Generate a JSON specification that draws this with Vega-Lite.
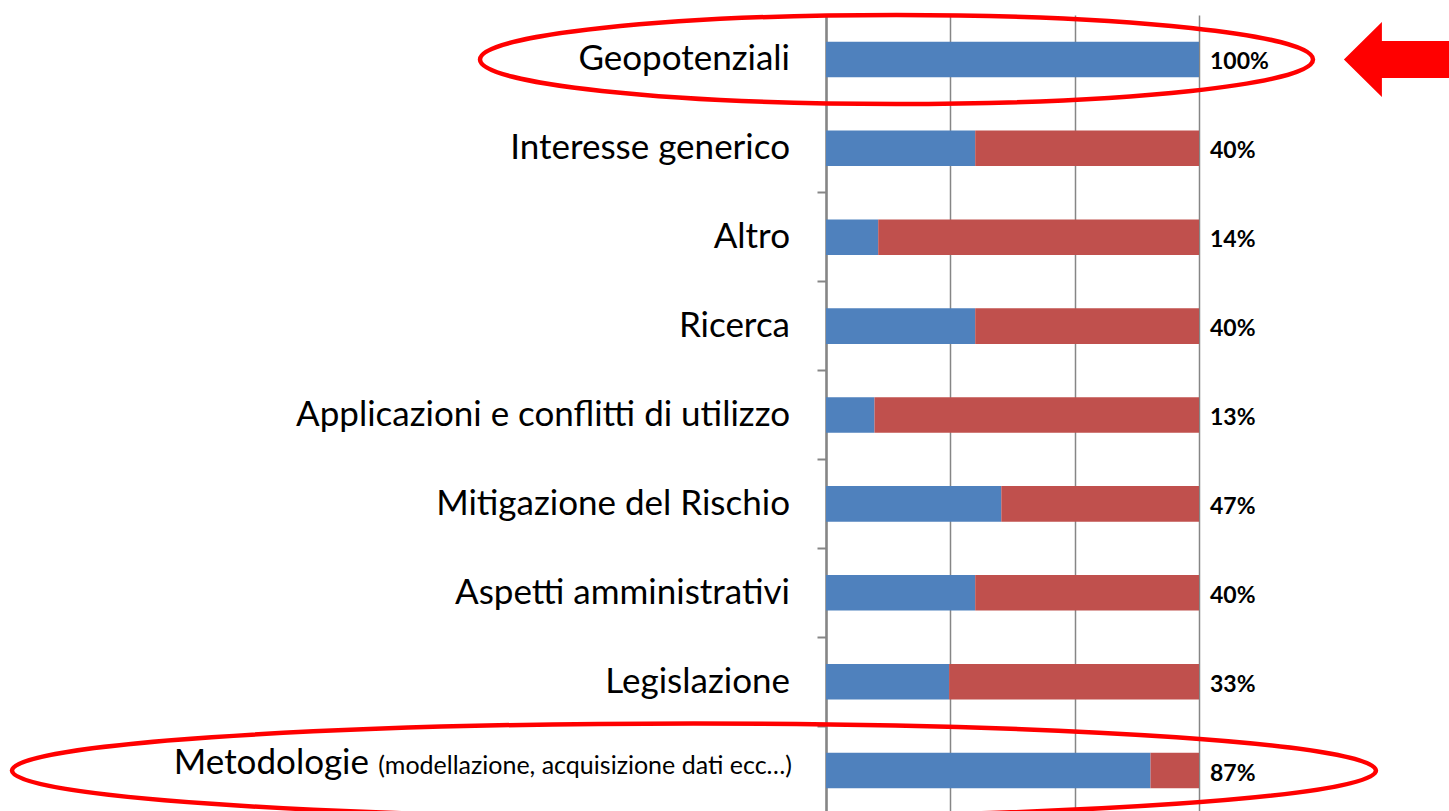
{
  "$schema": "https://vega.github.io/schema/vega-lite/v6.json",
  "width": 373,
  "height": 800,
  "autosize": "none",
  "padding": {"left": 826, "top": 15, "right": 250, "bottom": 0},
  "background": "white",
  "config": {"view": {"stroke": null}, "font": "Lato"},
  "datasets": {
    "temi": [
      {"tema": "Geopotenziali", "nota": "", "interessati": 1.00, "altri": 0.00},
      {"tema": "Interesse generico", "nota": "", "interessati": 0.40, "altri": 0.60},
      {"tema": "Altro", "nota": "", "interessati": 0.14, "altri": 0.86},
      {"tema": "Ricerca", "nota": "", "interessati": 0.40, "altri": 0.60},
      {"tema": "Applicazioni e conflitti di utilizzo", "nota": "", "interessati": 0.13, "altri": 0.87},
      {"tema": "Mitigazione del Rischio", "nota": "", "interessati": 0.47, "altri": 0.53},
      {"tema": "Aspetti amministrativi", "nota": "", "interessati": 0.40, "altri": 0.60},
      {"tema": "Legislazione", "nota": "", "interessati": 0.33, "altri": 0.67},
      {"tema": "Metodologie", "nota": "(modellazione, acquisizione dati ecc…)", "interessati": 0.87, "altri": 0.13}
    ]
  },
  "layer": [
    {
      "data": {"name": "temi"},
      "transform": [{"fold": ["interessati", "altri"], "as": ["gruppo", "quota"]}],
      "mark": {"type": "bar"},
      "encoding": {
        "y": {
          "field": "tema",
          "type": "nominal",
          "scale": {
            "domain": ["Geopotenziali", "Interesse generico", "Altro", "Ricerca", "Applicazioni e conflitti di utilizzo", "Mitigazione del Rischio", "Aspetti amministrativi", "Legislazione", "Metodologie"],
            "paddingInner": 0.6,
            "paddingOuter": 0.3
          },
          "axis": {
            "title": null,
            "labels": false,
            "ticks": true,
            "tickSize": 9,
            "tickColor": "#868686",
            "tickWidth": 2,
            "bandPosition": 1.75,
            "domainColor": "#868686",
            "domainWidth": 2.5,
            "grid": false
          }
        },
        "x": {
          "field": "quota",
          "type": "quantitative",
          "stack": "zero",
          "scale": {"domain": [0, 1], "nice": false},
          "axis": {
            "title": null,
            "labels": false,
            "ticks": false,
            "domain": false,
            "grid": true,
            "gridColor": "#868686",
            "gridWidth": 1.5,
            "values": [0, 0.3333, 0.6667, 1]
          }
        },
        "color": {
          "field": "gruppo",
          "type": "nominal",
          "scale": {"domain": ["interessati", "altri"], "range": ["#4F81BD", "#C0504D"]},
          "legend": null
        },
        "order": {"field": "gruppo", "sort": "descending"}
      }
    },
    {
      "data": {"name": "temi"},
      "transform": [{"filter": "datum.nota === ''"}],
      "mark": {"type": "text", "align": "right", "baseline": "middle", "dx": -36, "fontSize": 35, "font": "Lato", "color": "black"},
      "encoding": {
        "x": {"datum": 0},
        "y": {"field": "tema", "type": "nominal"},
        "text": {"field": "tema"}
      }
    },
    {
      "data": {"name": "temi"},
      "transform": [{"filter": "datum.nota !== ''"}],
      "mark": {"type": "text", "align": "right", "baseline": "middle", "dx": -457, "dy": -8, "fontSize": 35, "font": "Lato", "color": "black"},
      "encoding": {
        "x": {"datum": 0},
        "y": {"field": "tema", "type": "nominal"},
        "text": {"field": "tema"}
      }
    },
    {
      "data": {"name": "temi"},
      "transform": [{"filter": "datum.nota !== ''"}],
      "mark": {"type": "text", "align": "right", "baseline": "middle", "dx": -34, "dy": -5, "fontSize": 25, "font": "Lato", "color": "black"},
      "encoding": {
        "x": {"datum": 0},
        "y": {"field": "tema", "type": "nominal"},
        "text": {"field": "nota"}
      }
    },
    {
      "data": {"name": "temi"},
      "mark": {"type": "text", "align": "left", "baseline": "middle", "dx": 11, "dy": 3, "fontSize": 23, "fontWeight": "bold", "font": "Lato", "color": "black"},
      "encoding": {
        "x": {"datum": 1},
        "y": {"field": "tema", "type": "nominal"},
        "text": {"field": "interessati", "type": "quantitative", "format": ".0%"}
      }
    },
    {
      "data": {"values": [{"tema": "Geopotenziali", "centro": 0.189}]},
      "mark": {
        "type": "point",
        "filled": false,
        "stroke": "#FF0000",
        "strokeWidth": 4.5,
        "opacity": 1,
        "size": 693889,
        "shape": "M -1 0 C -1 -0.0591 -0.5523 -0.107 0 -0.107 C 0.5523 -0.107 1 -0.0591 1 0 C 1 0.0591 0.5523 0.107 0 0.107 C -0.5523 0.107 -1 0.0591 -1 0 Z"
      },
      "encoding": {
        "x": {"field": "centro", "type": "quantitative"},
        "y": {"field": "tema", "type": "nominal"}
      }
    },
    {
      "data": {"values": [{"tema": "Metodologie", "centro": -0.354}]},
      "mark": {
        "type": "point",
        "filled": false,
        "stroke": "#FF0000",
        "strokeWidth": 4.5,
        "opacity": 1,
        "size": 1860496,
        "shape": "M -1 0 C -1 -0.0381 -0.5523 -0.069 0 -0.069 C 0.5523 -0.069 1 -0.0381 1 0 C 1 0.0381 0.5523 0.069 0 0.069 C -0.5523 0.069 -1 0.0381 -1 0 Z"
      },
      "encoding": {
        "x": {"field": "centro", "type": "quantitative"},
        "y": {"field": "tema", "type": "nominal"}
      }
    },
    {
      "data": {"values": [{"tema": "Geopotenziali", "centro": 1.544}]},
      "mark": {
        "type": "point",
        "filled": true,
        "fill": "#FF0000",
        "stroke": null,
        "opacity": 1,
        "size": 13456,
        "shape": "M -1 0 L -0.345 -0.647 L -0.345 -0.319 L 1 -0.319 L 1 0.319 L -0.345 0.319 L -0.345 0.647 Z"
      },
      "encoding": {
        "x": {"field": "centro", "type": "quantitative"},
        "y": {"field": "tema", "type": "nominal"}
      }
    }
  ]
}
